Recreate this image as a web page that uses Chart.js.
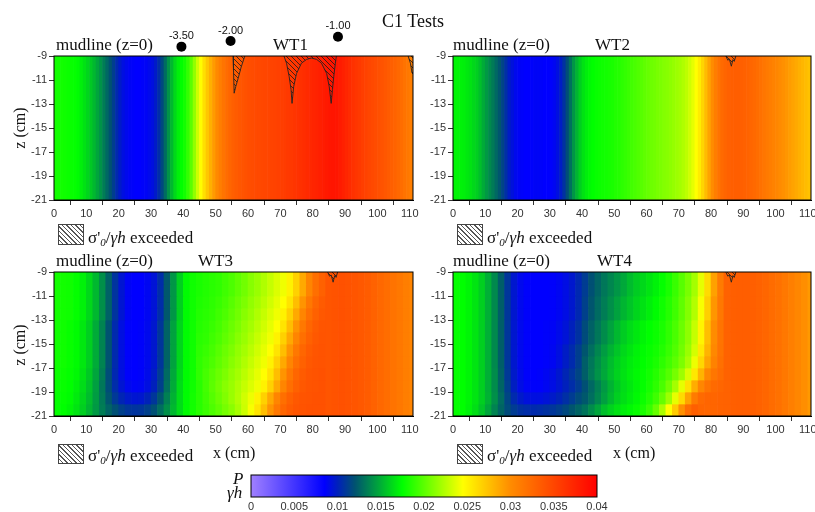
<!DOCTYPE html>
<html><head><meta charset="utf-8">
<script src="https://cdn.jsdelivr.net/npm/chart.js@4/dist/chart.umd.min.js"></script>
<style>
html,body{margin:0;padding:0;background:#fff}
body{width:815px;height:512px;position:relative;overflow:hidden}
canvas{position:absolute}
.t{position:absolute;white-space:nowrap;font-family:'Liberation Serif','Times New Roman',serif;color:#111;line-height:1;z-index:5}
.rot{transform:translate(-50%,-50%) rotate(-90deg)}
.hb{position:absolute;box-sizing:border-box;border:1px solid #444;background:repeating-linear-gradient(45deg,#fff 0 2.2px,#555 2.2px 3.2px);z-index:5}
sub{font-size:11px;vertical-align:-3px;font-style:italic}
</style></head><body>
<canvas id="wt1" style="left:0;top:0" width="420" height="220"></canvas>
<canvas id="wt2" style="left:400px;top:0" width="415" height="220"></canvas>
<canvas id="wt3" style="left:0;top:220px" width="420" height="216"></canvas>
<canvas id="wt4" style="left:400px;top:220px" width="415" height="216"></canvas>
<canvas id="cbar" style="left:200px;top:465px" width="420" height="47"></canvas>

<div class="t" style="left:382px;top:12px;font-size:18px">C1 Tests</div>
<div class="t" style="left:56px;top:36px;font-size:17px">mudline (z=0)</div>
<div class="t" style="left:273px;top:36px;font-size:17px">WT1</div>
<div class="t" style="left:453px;top:36px;font-size:17px">mudline (z=0)</div>
<div class="t" style="left:595px;top:36px;font-size:17px">WT2</div>
<div class="t" style="left:56px;top:252px;font-size:17px">mudline (z=0)</div>
<div class="t" style="left:198px;top:252px;font-size:17px">WT3</div>
<div class="t" style="left:453px;top:252px;font-size:17px">mudline (z=0)</div>
<div class="t" style="left:597px;top:252px;font-size:17px">WT4</div>
<div class="t rot" style="left:20px;top:128px;font-size:16px">z (cm)</div>
<div class="t rot" style="left:20px;top:345px;font-size:16px">z (cm)</div>

<div class="hb" style="left:58px;top:224px;width:26px;height:21px"></div>
<div class="t" style="left:88px;top:229px;font-size:17px">σ'<sub>0</sub>/<i>γh</i> exceeded</div>
<div class="hb" style="left:457px;top:224px;width:26px;height:21px"></div>
<div class="t" style="left:487px;top:229px;font-size:17px">σ'<sub>0</sub>/<i>γh</i> exceeded</div>
<div class="hb" style="left:58px;top:444px;width:26px;height:20px"></div>
<div class="t" style="left:88px;top:447px;font-size:17px">σ'<sub>0</sub>/<i>γh</i> exceeded</div>
<div class="hb" style="left:457px;top:444px;width:26px;height:20px"></div>
<div class="t" style="left:487px;top:447px;font-size:17px">σ'<sub>0</sub>/<i>γh</i> exceeded</div>
<div class="t" style="left:213px;top:445px;font-size:16px">x (cm)</div>
<div class="t" style="left:613px;top:445px;font-size:16px">x (cm)</div>
<div class="t" style="left:233px;top:470px;font-size:17px;font-style:italic">P</div>
<div class="t" style="left:227px;top:484px;font-size:17px;font-style:italic">γh</div>

<script>
// ---------- axes / ticks ----------
const xTicks = [0,10,20,30,40,50,60,70,80,90,100,110];
const zTicks = [-21,-19,-17,-15,-13,-11,-9];
const cbarTicks = [0,0.005,0.01,0.015,0.02,0.025,0.03,0.035,0.04];

// ---------- cell centres (cm) ----------
const xFine = [0.5,1.5,2.5,3.5,4.5,5.5,6.5,7.5,8.5,9.5,10.5,11.5,12.5,13.5,14.5,15.5,16.5,17.5,18.5,19.5,
 20.5,21.5,22.5,23.5,24.5,25.5,26.5,27.5,28.5,29.5,30.5,31.5,32.5,33.5,34.5,35.5,36.5,37.5,38.5,39.5,
 40.5,41.5,42.5,43.5,44.5,45.5,46.5,47.5,48.5,49.5,50.5,51.5,52.5,53.5,54.5,55.5,56.5,57.5,58.5,59.5,
 60.5,61.5,62.5,63.5,64.5,65.5,66.5,67.5,68.5,69.5,70.5,71.5,72.5,73.5,74.5,75.5,76.5,77.5,78.5,79.5,
 80.5,81.5,82.5,83.5,84.5,85.5,86.5,87.5,88.5,89.5,90.5,91.5,92.5,93.5,94.5,95.5,96.5,97.5,98.5,99.5,
 100.5,101.5,102.5,103.5,104.5,105.5,106.5,107.5,108.5,109.5,110.5];
const xCoarse = [1,3,5,7,9,11,13,15,17,19,21,23,25,27,29,31,33,35,37,39,41,43,45,47,49,51,53,55,57,59,
 61,63,65,67,69,71,73,75,77,79,81,83,85,87,89,91,93,95,97,99,101,103,105,107,109,111];
const zBands = [[-10,-9],[-11,-10],[-12,-11],[-13,-12],[-14,-13],[-15,-14],[-16,-15],[-17,-16],
 [-18,-17],[-19,-18],[-20,-19],[-21,-20]];

// ---------- P/(gamma h) values ----------
const wt1P = [0.0180,0.0180,0.0180,0.0179,0.0178,0.0177,0.0176,0.0174,0.0170,0.0166,
 0.0162,0.0158,0.0153,0.0147,0.0141,0.0134,0.0127,0.0120,0.0112,0.0104,
 0.0097,0.0092,0.0089,0.0087,0.0086,0.0085,0.0085,0.0086,0.0087,0.0089,
 0.0092,0.0097,0.0105,0.0116,0.0128,0.0141,0.0153,0.0163,0.0170,0.0175,
 0.0180,0.0189,0.0200,0.0215,0.0231,0.0246,0.0260,0.0272,0.0283,0.0293,
 0.0302,0.0310,0.0317,0.0323,0.0328,0.0332,0.0335,0.0338,0.0340,0.0342,
 0.0344,0.0346,0.0347,0.0348,0.0349,0.0350,0.0351,0.0352,0.0353,0.0354,
 0.0356,0.0357,0.0359,0.0360,0.0362,0.0364,0.0366,0.0368,0.0370,0.0372,
 0.0374,0.0376,0.0378,0.0380,0.0382,0.0384,0.0385,0.0384,0.0381,0.0377,
 0.0373,0.0369,0.0365,0.0362,0.0359,0.0356,0.0353,0.0350,0.0348,0.0346,
 0.0343,0.0341,0.0338,0.0335,0.0332,0.0329,0.0326,0.0322,0.0318,0.0314,
 0.0310];
const wt2P = [0.0172,0.0172,0.0171,0.0170,0.0168,0.0166,0.0163,0.0160,0.0155,0.0149,
 0.0143,0.0138,0.0133,0.0127,0.0121,0.0114,0.0106,0.0098,0.0093,0.0089,
 0.0087,0.0086,0.0085,0.0085,0.0086,0.0087,0.0087,0.0086,0.0085,0.0085,
 0.0086,0.0088,0.0092,0.0098,0.0107,0.0118,0.0130,0.0142,0.0152,0.0160,
 0.0166,0.0170,0.0173,0.0175,0.0177,0.0178,0.0179,0.0180,0.0181,0.0182,
 0.0184,0.0185,0.0187,0.0189,0.0191,0.0193,0.0195,0.0197,0.0199,0.0201,
 0.0203,0.0205,0.0206,0.0208,0.0209,0.0211,0.0212,0.0214,0.0216,0.0218,
 0.0220,0.0223,0.0227,0.0232,0.0238,0.0245,0.0254,0.0265,0.0277,0.0289,
 0.0300,0.0310,0.0318,0.0324,0.0328,0.0331,0.0332,0.0333,0.0333,0.0332,
 0.0331,0.0329,0.0327,0.0325,0.0322,0.0319,0.0316,0.0313,0.0310,0.0307,
 0.0304,0.0301,0.0298,0.0295,0.0292,0.0289,0.0286,0.0283,0.0280,0.0277,
 0.0274];

// WT3 pieces: left part x=1..39, middle x=41..83, right part x=85..111
const wt3L1 = [0.0180,0.0180,0.0179,0.0176,0.0171,0.0163,0.0153,0.0140,0.0125,0.0108,0.0095,0.0087,0.0085,0.0085,0.0088,0.0094,0.0105,0.0122,0.0142,0.0160];
const wt3L2 = [0.0179,0.0179,0.0177,0.0174,0.0168,0.0160,0.0149,0.0136,0.0120,0.0104,0.0092,0.0086,0.0085,0.0086,0.0089,0.0096,0.0109,0.0126,0.0146,0.0162];
const wt3L3 = [0.0178,0.0178,0.0176,0.0173,0.0166,0.0158,0.0147,0.0134,0.0118,0.0103,0.0092,0.0086,0.0085,0.0086,0.0090,0.0098,0.0111,0.0128,0.0148,0.0163];
const wt3L4 = [0.0177,0.0177,0.0175,0.0171,0.0164,0.0156,0.0145,0.0132,0.0118,0.0105,0.0095,0.0089,0.0087,0.0088,0.0092,0.0100,0.0113,0.0130,0.0149,0.0164];
const wt3L5 = [0.0176,0.0176,0.0174,0.0169,0.0162,0.0154,0.0144,0.0133,0.0121,0.0110,0.0102,0.0097,0.0095,0.0096,0.0101,0.0109,0.0121,0.0135,0.0151,0.0164];
const wt3L6 = [0.0176,0.0175,0.0172,0.0167,0.0160,0.0152,0.0143,0.0134,0.0126,0.0119,0.0113,0.0109,0.0108,0.0109,0.0113,0.0119,0.0129,0.0140,0.0153,0.0164];
const wt3M1 = [0.0174,0.0179,0.0182,0.0184,0.0186,0.0188,0.0192,0.0196,0.0201,0.0206,0.0212,0.0217,0.0223,0.0229,0.0235,0.0241,0.0251,0.0267,0.0286,0.0305,0.0321,0.0331];
const wt3M2 = [0.0174,0.0179,0.0183,0.0185,0.0187,0.0190,0.0194,0.0199,0.0204,0.0209,0.0215,0.0220,0.0226,0.0232,0.0238,0.0245,0.0258,0.0276,0.0296,0.0314,0.0327,0.0335];
const wt3M3 = [0.0174,0.0179,0.0184,0.0186,0.0188,0.0192,0.0196,0.0201,0.0206,0.0212,0.0217,0.0223,0.0229,0.0235,0.0241,0.0251,0.0267,0.0286,0.0305,0.0321,0.0331,0.0337];
const wt3M4 = [0.0174,0.0179,0.0185,0.0187,0.0190,0.0194,0.0199,0.0204,0.0209,0.0215,0.0220,0.0226,0.0232,0.0238,0.0245,0.0258,0.0276,0.0296,0.0314,0.0327,0.0335,0.0339];
const wt3M5 = [0.0174,0.0179,0.0186,0.0188,0.0192,0.0196,0.0201,0.0206,0.0212,0.0217,0.0223,0.0229,0.0235,0.0241,0.0251,0.0267,0.0286,0.0305,0.0321,0.0331,0.0337,0.0340];
const wt3M6 = [0.0174,0.0179,0.0187,0.0190,0.0194,0.0199,0.0204,0.0209,0.0215,0.0220,0.0226,0.0232,0.0238,0.0245,0.0258,0.0276,0.0296,0.0314,0.0327,0.0335,0.0339,0.0341];
const wt3M7 = [0.0174,0.0179,0.0188,0.0192,0.0196,0.0201,0.0206,0.0212,0.0217,0.0223,0.0229,0.0235,0.0241,0.0251,0.0267,0.0286,0.0305,0.0321,0.0331,0.0337,0.0340,0.0341];
const wt3M8 = [0.0174,0.0179,0.0188,0.0194,0.0199,0.0204,0.0209,0.0215,0.0220,0.0226,0.0232,0.0238,0.0245,0.0258,0.0276,0.0296,0.0314,0.0327,0.0335,0.0339,0.0341,0.0342];
const wt3M9 = [0.0174,0.0179,0.0186,0.0193,0.0200,0.0206,0.0212,0.0217,0.0223,0.0229,0.0235,0.0241,0.0251,0.0267,0.0286,0.0305,0.0321,0.0331,0.0337,0.0340,0.0341,0.0342];
const wt3M10 = [0.0174,0.0180,0.0186,0.0192,0.0198,0.0204,0.0210,0.0217,0.0224,0.0232,0.0240,0.0251,0.0267,0.0286,0.0305,0.0321,0.0331,0.0337,0.0340,0.0341,0.0342,0.0342];
const wt3M11 = [0.0174,0.0180,0.0186,0.0191,0.0196,0.0201,0.0207,0.0213,0.0221,0.0231,0.0243,0.0258,0.0276,0.0296,0.0314,0.0327,0.0335,0.0339,0.0341,0.0342,0.0342,0.0342];
const wt3Tail = [0.0339,0.0341,0.0342,0.0341,0.0339,0.0337,0.0334,0.0330,0.0326,0.0322,0.0318,0.0314,0.0310,0.0306];
// rows top (z=-9..-10) to bottom (z=-20..-21)
const wt3Layout = [[wt3L1,wt3M1],[wt3L1,wt3M1],[wt3L1,wt3M2],[wt3L1,wt3M3],[wt3L2,wt3M4],[wt3L2,wt3M5],
 [wt3L2,wt3M6],[wt3L2,wt3M7],[wt3L3,wt3M8],[wt3L4,wt3M9],[wt3L5,wt3M10],[wt3L6,wt3M11]];

// WT4 pieces
const wt4LA = [0.0176,0.0175,0.0172,0.0167,0.0160,0.0150,0.0138,0.0124,0.0109,0.0096,0.0089,0.0086,0.0085,0.0085,0.0085,0.0086,0.0088,0.0091,0.0096,0.0103];
const wt4LB = [0.0176,0.0175,0.0172,0.0167,0.0160,0.0150,0.0138,0.0124,0.0109,0.0096,0.0089,0.0086,0.0085,0.0085,0.0086,0.0087,0.0090,0.0094,0.0100,0.0107];
const wt4LC = [0.0176,0.0175,0.0172,0.0167,0.0160,0.0150,0.0138,0.0124,0.0109,0.0096,0.0089,0.0086,0.0085,0.0085,0.0086,0.0088,0.0092,0.0098,0.0104,0.0112];
const wt4LD = [0.0176,0.0175,0.0172,0.0167,0.0160,0.0150,0.0139,0.0125,0.0110,0.0097,0.0090,0.0086,0.0085,0.0086,0.0088,0.0091,0.0096,0.0102,0.0108,0.0115];
const wt4LE = [0.0176,0.0175,0.0172,0.0167,0.0160,0.0150,0.0139,0.0126,0.0112,0.0099,0.0091,0.0087,0.0086,0.0086,0.0088,0.0091,0.0095,0.0100,0.0105,0.0111];
const wt4LF = [0.0176,0.0175,0.0172,0.0167,0.0160,0.0151,0.0140,0.0128,0.0115,0.0104,0.0097,0.0093,0.0092,0.0092,0.0094,0.0097,0.0101,0.0106,0.0111,0.0117];
const wt4LG = [0.0176,0.0175,0.0171,0.0165,0.0157,0.0147,0.0136,0.0126,0.0117,0.0111,0.0107,0.0105,0.0104,0.0105,0.0107,0.0109,0.0112,0.0116,0.0121,0.0126];
const wt4M1 = [0.0111,0.0119,0.0126,0.0132,0.0137,0.0142,0.0148,0.0154,0.0159,0.0163,0.0167,0.0171,0.0176,0.0182,0.0190,0.0199,0.0208,0.0220,0.0238,0.0262,0.0290,0.0312];
const wt4M2 = [0.0113,0.0121,0.0128,0.0134,0.0140,0.0146,0.0152,0.0157,0.0162,0.0166,0.0170,0.0174,0.0179,0.0185,0.0192,0.0201,0.0211,0.0224,0.0243,0.0268,0.0295,0.0314];
const wt4M3 = [0.0117,0.0125,0.0132,0.0139,0.0146,0.0153,0.0159,0.0164,0.0168,0.0172,0.0175,0.0178,0.0182,0.0188,0.0195,0.0204,0.0214,0.0229,0.0250,0.0276,0.0300,0.0317];
const wt4M4 = [0.0121,0.0129,0.0137,0.0144,0.0151,0.0157,0.0163,0.0167,0.0171,0.0174,0.0177,0.0180,0.0184,0.0190,0.0197,0.0206,0.0217,0.0233,0.0256,0.0281,0.0303,0.0318];
const wt4M5 = [0.0124,0.0132,0.0140,0.0147,0.0154,0.0160,0.0165,0.0169,0.0172,0.0175,0.0178,0.0182,0.0187,0.0193,0.0200,0.0209,0.0221,0.0240,0.0264,0.0288,0.0307,0.0320];
const wt4M6 = [0.0124,0.0133,0.0141,0.0148,0.0155,0.0161,0.0166,0.0170,0.0173,0.0176,0.0180,0.0185,0.0191,0.0198,0.0207,0.0218,0.0234,0.0256,0.0281,0.0303,0.0316,0.0323];
const wt4M7 = [0.0119,0.0127,0.0135,0.0143,0.0151,0.0158,0.0164,0.0168,0.0172,0.0176,0.0181,0.0187,0.0195,0.0206,0.0220,0.0238,0.0260,0.0284,0.0304,0.0317,0.0324,0.0327];
const wt4M8 = [0.0122,0.0129,0.0137,0.0145,0.0153,0.0160,0.0165,0.0169,0.0173,0.0178,0.0184,0.0192,0.0203,0.0218,0.0238,0.0262,0.0289,0.0312,0.0324,0.0328,0.0328,0.0329];
const wt4M9 = [0.0131,0.0139,0.0147,0.0155,0.0161,0.0166,0.0170,0.0173,0.0177,0.0182,0.0190,0.0203,0.0222,0.0245,0.0270,0.0298,0.0322,0.0332,0.0328,0.0327,0.0328,0.0329];
const wt4Tail = [0.0330,0.0332,0.0333,0.0333,0.0332,0.0330,0.0327,0.0323,0.0319,0.0314,0.0309,0.0304,0.0299,0.0294];
const wt4Layout = [[wt4LA,wt4M1],[wt4LA,wt4M1],[wt4LA,wt4M2],[wt4LA,wt4M2],[wt4LB,wt4M3],[wt4LB,wt4M3],
 [wt4LC,wt4M4],[wt4LC,wt4M5],[wt4LD,wt4M6],[wt4LE,wt4M7],[wt4LF,wt4M8],[wt4LG,wt4M9]];

// ---------- zones where sigma'0/gamma h is exceeded: lower boundaries (x cm, z cm) ----------
const wt1HatchX = [55.35,55.5,55.7,56.2,56.9,57.9,59.0, null,
  71.1,71.9,72.7,73.3,73.6,74.1,75.0,76.5,78.1,79.6,81.2,82.7,84.3,85.1,85.7,86.1,86.5,87.0,87.3, null,
  109.5,110.2,110.7,111];
const wt1HatchZ = [-9,-10.2,-12.1,-11.55,-10.9,-9.9,-9, null,
  -9,-9.6,-10.7,-11.8,-12.95,-11.55,-10.45,-9.6,-9.28,-9.17,-9.28,-9.6,-10.45,-11.55,-12.95,-11.8,-10.7,-9.6,-9, null,
  -9,-9.6,-10.4,-10.5];
const smallHatchX = [84.6,85.2,85.7,86.3,86.8,87.2,87.7];
const smallHatchZ = [-9,-9.35,-9.25,-9.85,-9.3,-9.45,-9];

// ---------- water-table markers above WT1 ----------
const markerX = [39.4,54.6,87.8];
const markerZ = [-8.22,-7.75,-7.39];
const markerText = ['-3.50','-2.00','-1.00'];

// ---------- colour map (style) ----------
const cmapStops = [[0,[160,128,255]],[0.0085,[0,0,255]],[0.0100,[0,32,188]],[0.0120,[0,82,112]],
  [0.0147,[0,165,60]],[0.0175,[0,255,0]],[0.0245,[255,255,0]],[0.03,[255,140,0]],[0.04,[255,0,0]]];
function cmap(v){
  if (v <= cmapStops[0][0]) return 'rgb('+cmapStops[0][1].join(',')+')';
  for (let i=1;i<cmapStops.length;i++){
    const [v1,c1] = cmapStops[i], [v0,c0] = cmapStops[i-1];
    if (v <= v1){
      const t=(v-v0)/(v1-v0);
      return 'rgb('+c0.map((c,k)=>Math.round(c+(c1[k]-c)*t)).join(',')+')';
    }
  }
  return 'rgb('+cmapStops[cmapStops.length-1][1].join(',')+')';
}

function makeHatch(){
  const c=document.createElement('canvas'); c.width=5; c.height=5;
  const g=c.getContext('2d'); g.strokeStyle='#1a1a1a'; g.lineWidth=0.8;
  g.beginPath(); g.moveTo(-1,-1); g.lineTo(6,6); g.moveTo(-1,4); g.lineTo(1,6); g.moveTo(4,-1); g.lineTo(6,1); g.stroke();
  return g.createPattern(c,'repeat');
}
const hatch = makeHatch();

const TICK_FONT = {family:"'Liberation Sans', Arial, sans-serif", size:11};
const framePlugin = {id:'frame', afterDatasetsDraw(chart){
  const a=chart.chartArea, ctx=chart.ctx; ctx.save(); ctx.strokeStyle='#000'; ctx.lineWidth=1;
  ctx.strokeRect(a.left,a.top,a.right-a.left,a.bottom-a.top); ctx.restore(); }};
const markerPlugin = {id:'markers', afterDraw(chart){
  const ctx=chart.ctx, sx=chart.scales.x, sy=chart.scales.y; ctx.save();
  markerX.forEach((x,i)=>{
    const px=sx.getPixelForValue(x), py=sy.getPixelForValue(markerZ[i]);
    ctx.fillStyle='#000'; ctx.beginPath(); ctx.arc(px,py,5,0,Math.PI*2); ctx.fill();
    ctx.font="11px 'Liberation Sans', Arial, sans-serif"; ctx.textAlign='center'; ctx.textBaseline='middle';
    ctx.fillStyle='#111'; ctx.fillText(markerText[i],px,py-10.5);
  });
  ctx.restore(); }};

function pts(xs,zs){ return xs.map((x,i)=>({x:x===null?NaN:x, y:zs[i]})); }

function panel(id, cellX, rows, hatchSets, geom, extra){
  const datasets=[];
  hatchSets.forEach(h=>datasets.push({type:'line', data:h, fill:'end', backgroundColor:hatch,
    borderColor:'#222', borderWidth:0.9, pointRadius:0, spanGaps:false, tension:0, order:0}));
  rows.forEach(r=>datasets.push({type:'bar', data:r.vals.map((v,i)=>({x:cellX[i], y:[r.z[0],r.z[1]]})),
    backgroundColor:r.vals.map(cmap), borderWidth:0, barPercentage:1, categoryPercentage:1, grouped:false, order:1}));
  new Chart(document.getElementById(id), {
    type:'bar', data:{datasets},
    options:{responsive:false, animation:false, events:[], devicePixelRatio:1,
      layout:{padding:{top:geom.top, right:geom.right, left:0, bottom:0}},
      plugins:{legend:{display:false}, tooltip:{enabled:false}},
      scales:{
        x:{type:'linear', min:0, max:111, offset:false,
          afterBuildTicks:s=>{s.ticks=xTicks.map(v=>({value:v}));},
          afterFit:s=>{s.height=20; s.paddingLeft=0; s.paddingRight=0;},
          ticks:{autoSkip:false, maxRotation:0, color:'#333', font:TICK_FONT, padding:2},
          grid:{drawOnChartArea:false, drawTicks:true, tickLength:5, color:'#333'},
          border:{display:true, color:'#000'}},
        y:{type:'linear', min:-21, max:-9,
          afterBuildTicks:s=>{s.ticks=zTicks.map(v=>({value:v}));},
          afterFit:s=>{s.width=geom.yw; s.paddingTop=0; s.paddingBottom=0;},
          ticks:{color:'#333', font:TICK_FONT, padding:2},
          grid:{drawOnChartArea:false, drawTicks:true, tickLength:5, color:'#333'},
          border:{display:true, color:'#000'}}
      }},
    plugins:[framePlugin].concat(extra||[])
  });
}

panel('wt1', xFine, [{z:[-21,-9], vals:wt1P}], [pts(wt1HatchX,wt1HatchZ)], {top:56,right:7,yw:54}, [markerPlugin]);
panel('wt2', xFine, [{z:[-21,-9], vals:wt2P}], [pts(smallHatchX,smallHatchZ)], {top:56,right:4,yw:53});
panel('wt3', xCoarse, wt3Layout.map((p,i)=>({z:zBands[i], vals:p[0].concat(p[1], wt3Tail)})), [pts(smallHatchX,smallHatchZ)], {top:52,right:7,yw:54});
panel('wt4', xCoarse, wt4Layout.map((p,i)=>({z:zBands[i], vals:p[0].concat(p[1], wt4Tail)})), [pts(smallHatchX,smallHatchZ)], {top:52,right:4,yw:53});

// ---------- colour bar ----------
const gradPlugin = {id:'grad', beforeDatasetsDraw(chart){
  const a=chart.chartArea, ctx=chart.ctx, sx=chart.scales.x;
  const g=ctx.createLinearGradient(a.left,0,a.right,0);
  cmapStops.forEach(([v,c])=>g.addColorStop((sx.getPixelForValue(v)-a.left)/(a.right-a.left),'rgb('+c.join(',')+')'));
  ctx.save(); ctx.fillStyle=g; ctx.fillRect(a.left,a.top,a.right-a.left,a.bottom-a.top); ctx.restore(); }};
new Chart(document.getElementById('cbar'), {
  type:'scatter', data:{datasets:[{data:[]}]},
  options:{responsive:false, animation:false, events:[], devicePixelRatio:1,
    layout:{padding:{top:10,right:23,left:51,bottom:0}},
    plugins:{legend:{display:false}, tooltip:{enabled:false}},
    scales:{
      x:{type:'linear', min:0, max:0.04,
        afterBuildTicks:s=>{s.ticks=cbarTicks.map(v=>({value:v}));},
        afterFit:s=>{s.height=15; s.paddingLeft=0; s.paddingRight=0;},
        ticks:{color:'#333', font:TICK_FONT, padding:3, maxRotation:0, autoSkip:false,
          callback:v=>v===0?'0':String(parseFloat(v.toFixed(3)))},
        grid:{display:false, drawTicks:false}, border:{display:false}},
      y:{display:false, min:0, max:1}
    }},
  plugins:[gradPlugin, framePlugin]
});
</script>
</body></html>
